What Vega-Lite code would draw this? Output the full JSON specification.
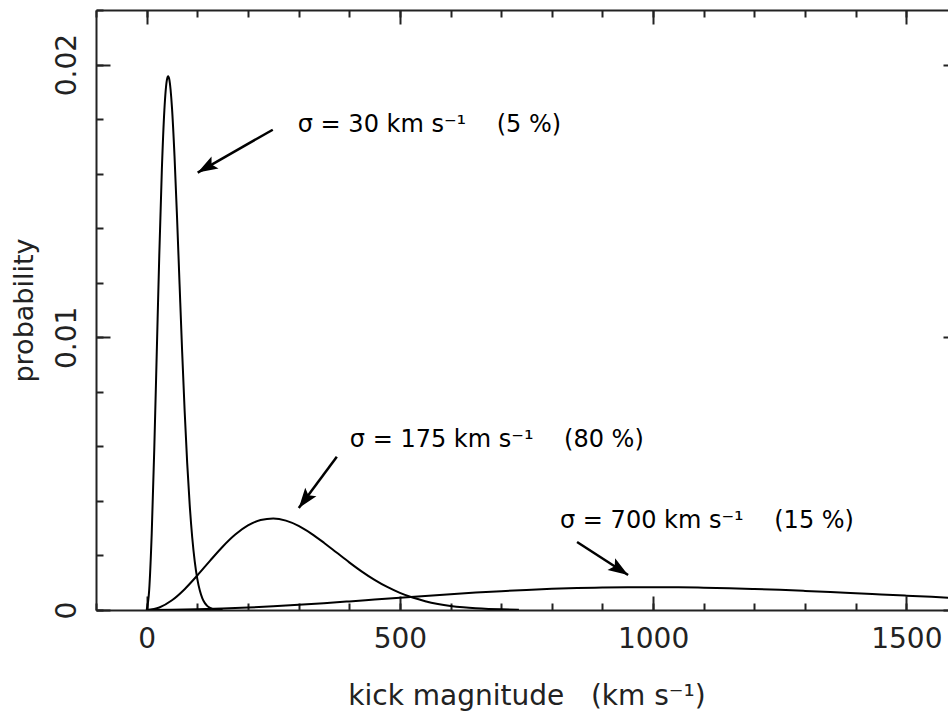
{
  "$schema": "https://vega.github.io/schema/vega-lite/v6.json",
  "width": 861,
  "height": 600,
  "autosize": {"type": "none"},
  "padding": {"left": 96, "top": 10, "right": -9, "bottom": 102},
  "background": "white",
  "config": {
    "view": {"stroke": null},
    "font": "DejaVu Sans",
    "axis": {
      "domainColor": "#222", "domainWidth": 2, "tickColor": "#222", "tickWidth": 2,
      "grid": false, "labelFont": "DejaVu Sans", "titleFont": "DejaVu Sans",
      "labelColor": "#222", "titleColor": "#222", "titleFontWeight": "normal",
      "labelFlush": false, "labelOverlap": false
    }
  },
  "datasets": {
    "curves": [
      {"s": "30", "v": 0, "p": 0}, {"s": "30", "v": 5, "p": 0.000729}, {"s": "30", "v": 10, "p": 0.002795},
      {"s": "30", "v": 15, "p": 0.005868}, {"s": "30", "v": 20, "p": 0.009465}, {"s": "30", "v": 25, "p": 0.013051},
      {"s": "30", "v": 30, "p": 0.016132}, {"s": "30", "v": 35, "p": 0.01833}, {"s": "30", "v": 40, "p": 0.019438},
      {"s": "30", "v": 42.5, "p": 0.019568}, {"s": "30", "v": 45, "p": 0.019428}, {"s": "30", "v": 50, "p": 0.018422},
      {"s": "30", "v": 55, "p": 0.016651}, {"s": "30", "v": 60, "p": 0.014398}, {"s": "30", "v": 65, "p": 0.011941},
      {"s": "30", "v": 70, "p": 0.009518}, {"s": "30", "v": 75, "p": 0.007303}, {"s": "30", "v": 80, "p": 0.005403},
      {"s": "30", "v": 85, "p": 0.003856}, {"s": "30", "v": 90, "p": 0.002659}, {"s": "30", "v": 95, "p": 0.001772},
      {"s": "30", "v": 100, "p": 0.001142}, {"s": "30", "v": 105, "p": 0.000713}, {"s": "30", "v": 110, "p": 0.00043},
      {"s": "30", "v": 115, "p": 0.000252}, {"s": "30", "v": 120, "p": 0.000143}, {"s": "30", "v": 130, "p": 0.0000418},
      {"s": "30", "v": 140, "p": 0.0000108}, {"s": "30", "v": 150, "p": 0.0000025},
      {"s": "175", "v": 0, "p": 0}, {"s": "175", "v": 25, "p": 0.0000921}, {"s": "175", "v": 50, "p": 0.000357},
      {"s": "175", "v": 75, "p": 0.000764}, {"s": "175", "v": 100, "p": 0.001265}, {"s": "175", "v": 125, "p": 0.001802},
      {"s": "175", "v": 150, "p": 0.00232}, {"s": "175", "v": 175, "p": 0.002765}, {"s": "175", "v": 200, "p": 0.003099},
      {"s": "175", "v": 225, "p": 0.003298}, {"s": "175", "v": 250, "p": 0.003354}, {"s": "175", "v": 275, "p": 0.003276},
      {"s": "175", "v": 300, "p": 0.003083}, {"s": "175", "v": 325, "p": 0.002803}, {"s": "175", "v": 350, "p": 0.002468},
      {"s": "175", "v": 375, "p": 0.002108}, {"s": "175", "v": 400, "p": 0.001748}, {"s": "175", "v": 425, "p": 0.001409},
      {"s": "175", "v": 450, "p": 0.001105}, {"s": "175", "v": 475, "p": 0.000844}, {"s": "175", "v": 500, "p": 0.000628},
      {"s": "175", "v": 525, "p": 0.000456}, {"s": "175", "v": 550, "p": 0.000323}, {"s": "175", "v": 575, "p": 0.000223},
      {"s": "175", "v": 600, "p": 0.00015}, {"s": "175", "v": 625, "p": 0.0000988}, {"s": "175", "v": 650, "p": 0.0000635},
      {"s": "175", "v": 675, "p": 0.0000399}, {"s": "175", "v": 700, "p": 0.0000245}, {"s": "175", "v": 735, "p": 0.0000118},
      {"s": "700", "v": 0, "p": 0}, {"s": "700", "v": 50, "p": 0.0000058}, {"s": "700", "v": 100, "p": 0.000023},
      {"s": "700", "v": 150, "p": 0.0000512}, {"s": "700", "v": 200, "p": 0.0000893}, {"s": "700", "v": 250, "p": 0.0001364},
      {"s": "700", "v": 300, "p": 0.000191}, {"s": "700", "v": 350, "p": 0.000251}, {"s": "700", "v": 400, "p": 0.000316},
      {"s": "700", "v": 450, "p": 0.000383}, {"s": "700", "v": 500, "p": 0.000451}, {"s": "700", "v": 550, "p": 0.000517},
      {"s": "700", "v": 600, "p": 0.00058}, {"s": "700", "v": 650, "p": 0.000639}, {"s": "700", "v": 700, "p": 0.000691},
      {"s": "700", "v": 750, "p": 0.000737}, {"s": "700", "v": 800, "p": 0.000775}, {"s": "700", "v": 850, "p": 0.000804},
      {"s": "700", "v": 900, "p": 0.000824}, {"s": "700", "v": 950, "p": 0.000836}, {"s": "700", "v": 1000, "p": 0.000838},
      {"s": "700", "v": 1050, "p": 0.000833}, {"s": "700", "v": 1100, "p": 0.000819}, {"s": "700", "v": 1150, "p": 0.000798},
      {"s": "700", "v": 1200, "p": 0.000771}, {"s": "700", "v": 1250, "p": 0.000738}, {"s": "700", "v": 1300, "p": 0.000701},
      {"s": "700", "v": 1350, "p": 0.00066}, {"s": "700", "v": 1400, "p": 0.000617}, {"s": "700", "v": 1450, "p": 0.000572},
      {"s": "700", "v": 1500, "p": 0.000527}, {"s": "700", "v": 1550, "p": 0.000482}, {"s": "700", "v": 1600, "p": 0.000437},
      {"s": "700", "v": 1650, "p": 0.000394}
    ],
    "arrows": [
      {"id": 1, "x0": 249, "y0": 0.01761, "x1": 100.8, "y1": 0.01604},
      {"id": 2, "x0": 375.5, "y0": 0.005615, "x1": 300.4, "y1": 0.003743},
      {"id": 3, "x0": 849.8, "y0": 0.002495, "x1": 950.6, "y1": 0.001284}
    ],
    "labels": [
      {"label": "σ = 30 km s⁻¹\u00a0\u00a0\u00a0\u00a0(5 %)", "x": 298.4, "y": 0.01754},
      {"label": "σ = 175 km s⁻¹\u00a0\u00a0\u00a0\u00a0(80 %)", "x": 401.2, "y": 0.00598},
      {"label": "σ = 700 km s⁻¹\u00a0\u00a0\u00a0\u00a0(15 %)", "x": 816.2, "y": 0.00301}
    ]
  },
  "resolve": {"axis": {"x": "independent", "y": "independent"}},
  "layer": [
    {
      "data": {"name": "curves"},
      "mark": {"type": "line", "clip": true, "color": "black", "strokeWidth": 2, "interpolate": "monotone"},
      "encoding": {
        "x": {"field": "v", "type": "quantitative", "scale": {"domain": [-100, 1600], "nice": false, "zero": false},
          "axis": {"orient": "bottom", "values": [0, 500, 1000, 1500], "format": "d", "tickSize": -14,
            "labelFontSize": 28, "labelPadding": 29, "title": "kick magnitude\u00a0\u00a0\u00a0(km s⁻¹)", "titleFontSize": 28, "titlePadding": 29}},
        "y": {"field": "p", "type": "quantitative", "scale": {"domain": [0, 0.022], "nice": false, "zero": false},
          "axis": {"orient": "left", "values": [0, 0.01, 0.02], "labelExpr": "datum.value == 0 ? '0' : format(datum.value, '.2f')",
            "tickSize": -14, "labelAngle": -90, "labelAlign": "center", "labelBaseline": "bottom", "labelFontSize": 28,
            "labelPadding": 29, "title": "probability", "titleFontSize": 27, "titlePadding": 15}},
        "detail": {"field": "s", "type": "nominal"}
      }
    },
    {
      "data": {"name": "arrows"},
      "mark": {"type": "rule", "color": "black", "strokeWidth": 2.5},
      "encoding": {
        "x": {"field": "x0", "type": "quantitative", "scale": {"domain": [-100, 1600], "nice": false, "zero": false},
          "axis": {"orient": "bottom", "values": [-100, 0, 100, 200, 300, 400, 500, 600, 700, 800, 900, 1000, 1100, 1200, 1300, 1400, 1500, 1600],
            "tickSize": -7, "labels": false, "domain": false, "title": null}},
        "y": {"field": "y0", "type": "quantitative", "scale": {"domain": [0, 0.022], "nice": false, "zero": false},
          "axis": {"orient": "left", "values": [0, 0.002, 0.004, 0.006, 0.008, 0.01, 0.012, 0.014, 0.016, 0.018, 0.02, 0.022],
            "tickSize": -7, "labels": false, "domain": false, "title": null}},
        "x2": {"field": "x1"},
        "y2": {"field": "y1"}
      }
    },
    {
      "data": {"name": "labels"},
      "mark": {"type": "text", "align": "left", "baseline": "alphabetic", "fontSize": 24, "font": "DejaVu Sans", "color": "black"},
      "encoding": {
        "x": {"field": "x", "type": "quantitative", "scale": {"domain": [-100, 1600], "nice": false, "zero": false},
          "axis": {"orient": "top", "values": [0, 500, 1000, 1500], "tickSize": -14, "labels": false, "title": null}},
        "y": {"field": "y", "type": "quantitative", "scale": {"domain": [0, 0.022], "nice": false, "zero": false},
          "axis": {"orient": "right", "values": [0, 0.01, 0.02], "tickSize": -14, "labels": false, "title": null}},
        "text": {"field": "label"}
      }
    },
    {
      "data": {"name": "arrows"},
      "transform": [{"filter": "datum.id == 1"}],
      "mark": {"type": "point", "shape": "M0,0L0.7,2L0,1.6L-0.7,2Z", "filled": true, "size": 400, "color": "black", "opacity": 1, "angle": 240},
      "encoding": {
        "x": {"field": "x1", "type": "quantitative", "scale": {"domain": [-100, 1600], "nice": false, "zero": false},
          "axis": {"orient": "top", "values": [-100, 0, 100, 200, 300, 400, 500, 600, 700, 800, 900, 1000, 1100, 1200, 1300, 1400, 1500, 1600],
            "tickSize": -7, "labels": false, "domain": false, "title": null}},
        "y": {"field": "y1", "type": "quantitative", "scale": {"domain": [0, 0.022], "nice": false, "zero": false},
          "axis": {"orient": "right", "values": [0, 0.002, 0.004, 0.006, 0.008, 0.01, 0.012, 0.014, 0.016, 0.018, 0.02, 0.022],
            "tickSize": -7, "labels": false, "domain": false, "title": null}}
      }
    },
    {
      "data": {"name": "arrows"},
      "transform": [{"filter": "datum.id == 2"}],
      "mark": {"type": "point", "shape": "M0,0L0.7,2L0,1.6L-0.7,2Z", "filled": true, "size": 400, "color": "black", "opacity": 1, "angle": 217},
      "encoding": {
        "x": {"field": "x1", "type": "quantitative", "scale": {"domain": [-100, 1600], "nice": false, "zero": false}, "axis": null},
        "y": {"field": "y1", "type": "quantitative", "scale": {"domain": [0, 0.022], "nice": false, "zero": false}, "axis": null}
      }
    },
    {
      "data": {"name": "arrows"},
      "transform": [{"filter": "datum.id == 3"}],
      "mark": {"type": "point", "shape": "M0,0L0.7,2L0,1.6L-0.7,2Z", "filled": true, "size": 400, "color": "black", "opacity": 1, "angle": 123},
      "encoding": {
        "x": {"field": "x1", "type": "quantitative", "scale": {"domain": [-100, 1600], "nice": false, "zero": false}, "axis": null},
        "y": {"field": "y1", "type": "quantitative", "scale": {"domain": [0, 0.022], "nice": false, "zero": false}, "axis": null}
      }
    }
  ]
}
